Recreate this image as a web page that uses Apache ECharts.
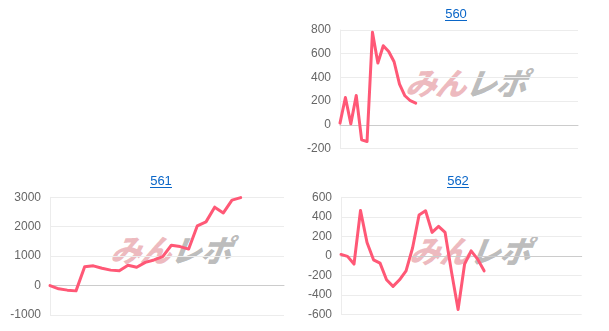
<!DOCTYPE html>
<html>
<head>
<meta charset="utf-8">
<script src="https://cdn.jsdelivr.net/npm/echarts@6/dist/echarts.min.js"></script>
<style>
html,body{margin:0;padding:0;background:#fff;}
#wrap{position:relative;width:609px;height:331px;}
#c{position:absolute;left:0;top:0;width:609px;height:331px;z-index:2;}
.mark{position:absolute;z-index:1;transform:translate(-50%,-50%) skewX(-22deg);
  font-family:"Noto Sans CJK JP",sans-serif;font-weight:900;font-size:31px;line-height:1;
  white-space:nowrap;letter-spacing:-1px;}
.mark .a{color:rgba(226,140,148,0.6);}
.mark .b{color:rgba(150,150,150,0.65);}
</style>
</head>
<body>
<div id="wrap"><div id="c"></div></div>
<script>
// ---- data ----
const titles = ['560', '561', '562'];
const categoryCounts = [45, 28, 38];
const s560 = [14, 230, 8, 247, -127, -141, 780, 521, 667, 619, 532, 343, 245, 203, 183];
const s561 = [0, -110, -155, -180, 640, 670, 590, 525, 500, 690, 625, 790, 870, 985, 1370, 1325, 1240, 2030, 2165, 2665, 2470, 2905, 2990];
const s562 = [14, -6, -85, 465, 137, -41, -75, -246, -314, -246, -154, 80, 418, 462, 240, 302, 240, -170, -550, -85, 51, -34, -154];
const yMins = [-200, -1000, -600];
const yMaxs = [800, 3000, 600];
const yIntervals = [200, 1000, 200];
const markTextA = 'みん';
const markTextB = 'レポ';
const seriesData = [s560, s561, s562];

// ---- layout ----
const grids = [
  {left: 340, top: 30, width: 238, height: 118.5},
  {left: 50, top: 197.3, width: 234, height: 117.7},
  {left: 341, top: 197.3, width: 240.7, height: 117}
];
const titlePos = [[456, 14], [161, 181], [458, 181]];
const markPos = [[470, 80.5], [174.5, 248], [473.5, 249]];

const font = '"Liberation Sans", Arial, sans-serif';
const lineColor = 'rgb(255,88,118)';

// watermarks (behind the transparent chart canvas)
const wrap = document.getElementById('wrap');
markPos.forEach(p => {
  const d = document.createElement('div');
  d.className = 'mark';
  d.style.left = p[0] + 'px';
  d.style.top = p[1] + 'px';
  const a = document.createElement('span'); a.className = 'a'; a.textContent = markTextA;
  const b = document.createElement('span'); b.className = 'b'; b.textContent = markTextB;
  d.appendChild(a); d.appendChild(b);
  wrap.appendChild(d);
});

function cats(n){ const a=[]; for(let i=0;i<n;i++) a.push(String(i+1)); return a; }

const xAxis = [], yAxis = [], series = [], graphic = [];
for (let k = 0; k < 3; k++) {
  xAxis.push({
    type: 'category', gridIndex: k, data: cats(categoryCounts[k]), boundaryGap: false,
    axisLine: {show: true, onZero: true, lineStyle: {color: '#cccccc', width: 1}},
    axisTick: {show: false}, axisLabel: {show: false}, splitLine: {show: false}
  });
  yAxis.push({
    type: 'value', gridIndex: k, min: yMins[k], max: yMaxs[k], interval: yIntervals[k],
    axisLine: {show: true, lineStyle: {color: '#ececec'}},
    axisTick: {show: false},
    axisLabel: {color: '#666', fontSize: 12, fontFamily: font, margin: 9, formatter: v => String(v)},
    splitLine: {lineStyle: {color: '#ececec', width: 1}}
  });
  series.push({
    type: 'line', xAxisIndex: k, yAxisIndex: k, data: seriesData[k],
    showSymbol: false, symbol: 'none', smooth: false,
    lineStyle: {color: lineColor, width: 3, join: 'round', cap: 'round'},
    z: 5, animation: false
  });
  graphic.push({
    type: 'text', x: titlePos[k][0], y: titlePos[k][1], z: 10,
    style: {text: titles[k], fill: '#0a66c8', font: '13px ' + font, textAlign: 'center', textVerticalAlign: 'middle'}
  });
  graphic.push({
    type: 'line', z: 10,
    shape: {x1: titlePos[k][0] - 11, y1: titlePos[k][1] + 6.5, x2: titlePos[k][0] + 11, y2: titlePos[k][1] + 6.5},
    style: {stroke: '#0a66c8', lineWidth: 1}
  });
}

const chart = echarts.init(document.getElementById('c'), null, {renderer: 'canvas'});
chart.setOption({
  animation: false,
  backgroundColor: 'transparent',
  grid: grids,
  xAxis: xAxis,
  yAxis: yAxis,
  series: series,
  graphic: graphic
});
</script>
</body>
</html>
